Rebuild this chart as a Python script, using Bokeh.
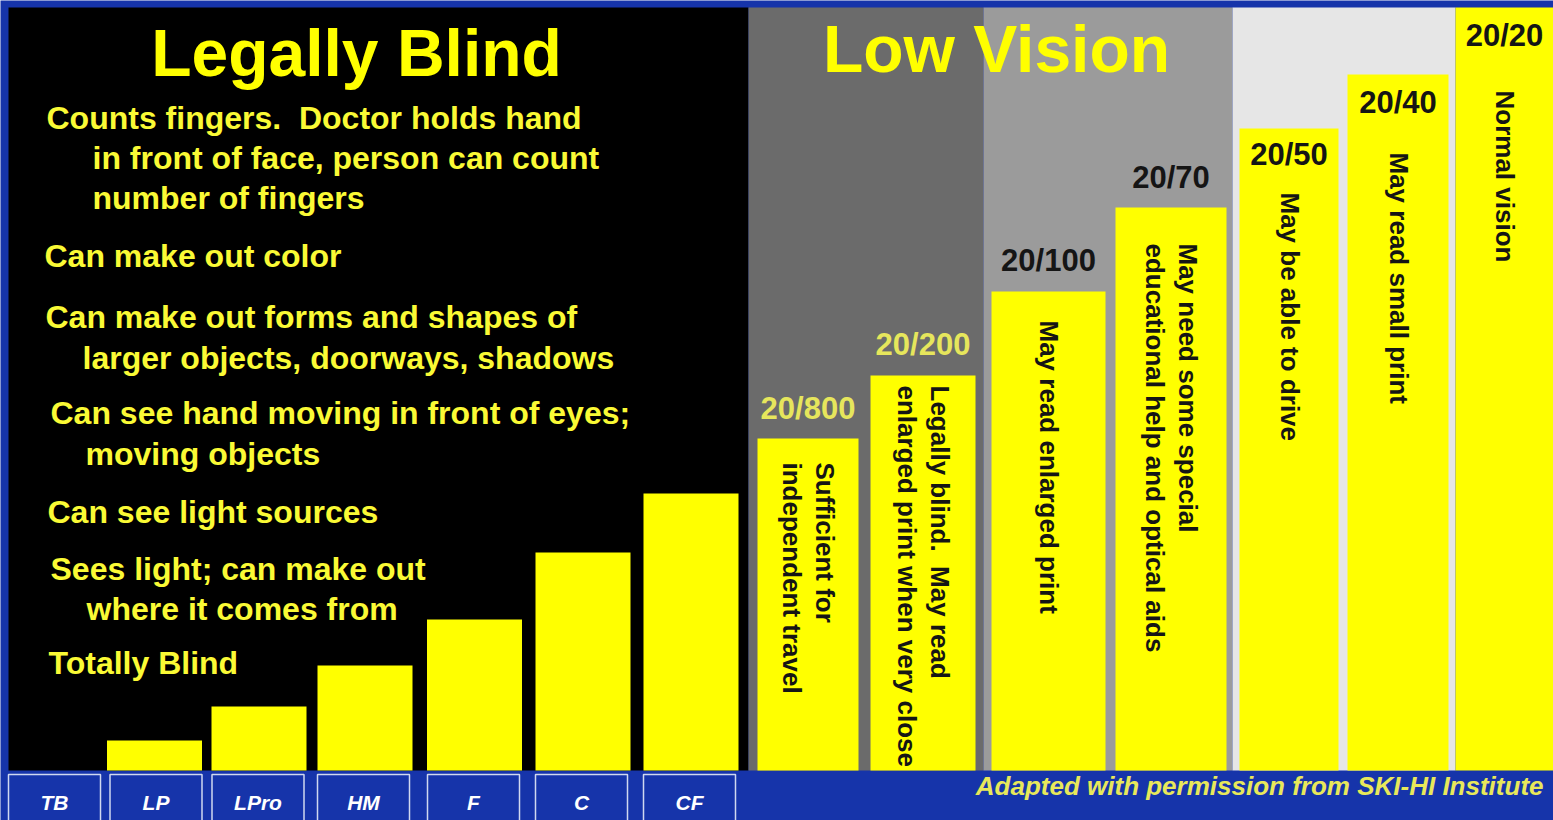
import math
from bokeh.plotting import figure
from bokeh.models import Range1d, ColumnDataSource
from bokeh.core.properties import value
from bokeh.embed import file_html
from bokeh.resources import INLINE

# ---------------- data ----------------
blind_codes = ["TB", "LP", "LPro", "HM", "F", "C", "CF"]
blind_levels = [0, 30, 64, 105, 151, 218, 277]
blind_descriptions = [
    ["Totally Blind"],
    ["Sees light; can make out", "where it comes from"],
    ["Can see light sources"],
    ["Can see hand moving in front of eyes;", "moving objects"],
    ["Can make out forms and shapes of", "larger objects, doorways, shadows"],
    ["Can make out color"],
    ["Counts fingers.\u00a0 Doctor holds hand", "in front of face, person can count", "number of fingers"],
]
acuity_labels = ["20/800", "20/200", "20/100", "20/70", "20/50", "20/40", "20/20"]
acuity_levels = [332, 395, 479, 563, 642, 696, 763]
acuity_notes = [
    ["Sufficient for", "independent travel"],
    ["Legally blind.\u00a0 May read", "enlarged print when very close"],
    ["May read enlarged print"],
    ["May need some special", "educational help and optical aids"],
    ["May be able to drive"],
    ["May read small print"],
    ["Normal vision"],
]
section_titles = ["Legally Blind", "Low Vision"]
credit = "Adapted with permission from SKI-HI Institute"

# ---------------- layout / style ----------------
BASE = 770  # pixel row of the bars' baseline
def Y(px):
    return BASE - px

BLUE = "#1634aa"
YELLOW = "#ffff00"
TXT_YELLOW = "#fafa35"
FONT = value("Liberation Sans")

blind_x = [54, 154, 258.5, 364.5, 474, 582.5, 690.5]
box_x = [54, 155.5, 257.5, 363, 473, 581, 689]
desc_pos = [  # (x, y) per line, per level
    [(48, 662)],
    [(50, 568), (86, 608)],
    [(47, 511)],
    [(50, 412), (85, 453)],
    [(45, 316), (82, 357)],
    [(44, 255)],
    [(46, 117), (92, 157), (92, 197)],
]
panel_left = [8, 748, 983, 1232]
panel_right = [748, 983, 1232, 1455]
panel_colors = ["#000000", "#6b6b6b", "#9b9b9b", "#e6e6e6"]

ac_left = [757, 870, 991, 1115, 1239, 1347, 1455]
ac_right = [858, 975, 1105, 1226, 1338, 1448, 1553]
label_offset = [30, 31, 31, 30, -26, -28, -28]
label_colors = ["#e6e65c", "#e6e65c", "#151515", "#151515", "#151515", "#151515", "#151515"]
note_start = [462, 385, 320, 243, 192, 152, 90]

p = figure(width=1553, height=820,
           x_range=Range1d(0, 1553), y_range=Range1d(Y(820), Y(0)),
           output_backend="svg", toolbar_location=None,
           x_axis_location=None, y_axis_location=None,
           min_border=0, background_fill_color=BLUE, border_fill_color=BLUE,
           outline_line_color=None)
p.xgrid.grid_line_color = None
p.ygrid.grid_line_color = None

# panels
p.quad(left=panel_left, right=panel_right, bottom=[0] * 4, top=[Y(7)] * 4,
       fill_color=panel_colors, line_color=None)

# legally blind bars
bsrc = ColumnDataSource(dict(x=blind_x[1:], top=blind_levels[1:]))
p.vbar(x="x", top="top", bottom=0, width=95, source=bsrc, fill_color=YELLOW, line_color=None)

# code boxes
p.quad(left=[c - 46 for c in box_x], right=[c + 46 for c in box_x],
       bottom=[Y(840)] * 7, top=[Y(774)] * 7,
       fill_color=BLUE, line_color="#d0d8f0", line_width=1.5)
p.text(x=box_x, y=[Y(802)] * 7, text=blind_codes, text_font=FONT,
       text_font_style="bold italic", text_font_size="21px", text_color="white",
       text_align="center", text_baseline="middle")

# descriptions on the left
dx, dy, dt = [], [], []
for lines, pos in zip(blind_descriptions, desc_pos):
    for line, (x, y) in zip(lines, pos):
        dx.append(x); dy.append(Y(y)); dt.append(line)
p.text(x=dx, y=dy, text=dt, text_font=FONT, text_font_style="bold",
       text_font_size="32px", text_color=TXT_YELLOW, text_align="left",
       text_baseline="middle")

# acuity bars
p.quad(left=ac_left, right=ac_right, bottom=[0] * 7, top=acuity_levels,
       fill_color=YELLOW, line_color=None)
ac_center = [(l + r) / 2 for l, r in zip(ac_left, ac_right)]
p.text(x=ac_center, y=[lv + off for lv, off in zip(acuity_levels, label_offset)],
       text=acuity_labels, text_font=FONT, text_font_style="bold",
       text_font_size="31px", text_color=label_colors, text_align="center",
       text_baseline="middle")

nx, ny, nt = [], [], []
for c, lines, s in zip(ac_center, acuity_notes, note_start):
    n = len(lines)
    for k, line in enumerate(lines):
        nx.append(c + 0.5 + ((n - 1) / 2 - k) * 33)
        ny.append(Y(s)); nt.append(line)
p.text(x=nx, y=ny, text=nt, angle=-math.pi / 2, text_font=FONT,
       text_font_style="bold", text_font_size="26px", text_color="#151515",
       text_align="left", text_baseline="middle")

# titles
p.text(x=[356, 996], y=[Y(52), Y(48)], text=section_titles, text_font=FONT,
       text_font_style="bold", text_font_size="66px", text_color=YELLOW,
       text_align="center", text_baseline="middle")

# credit
p.text(x=[1543], y=[Y(785)], text=[credit], text_font=FONT,
       text_font_style="bold italic", text_font_size="26px", text_color="#e8e85a",
       text_align="right", text_baseline="middle")

open("out.html", "w").write(file_html(p, INLINE))
